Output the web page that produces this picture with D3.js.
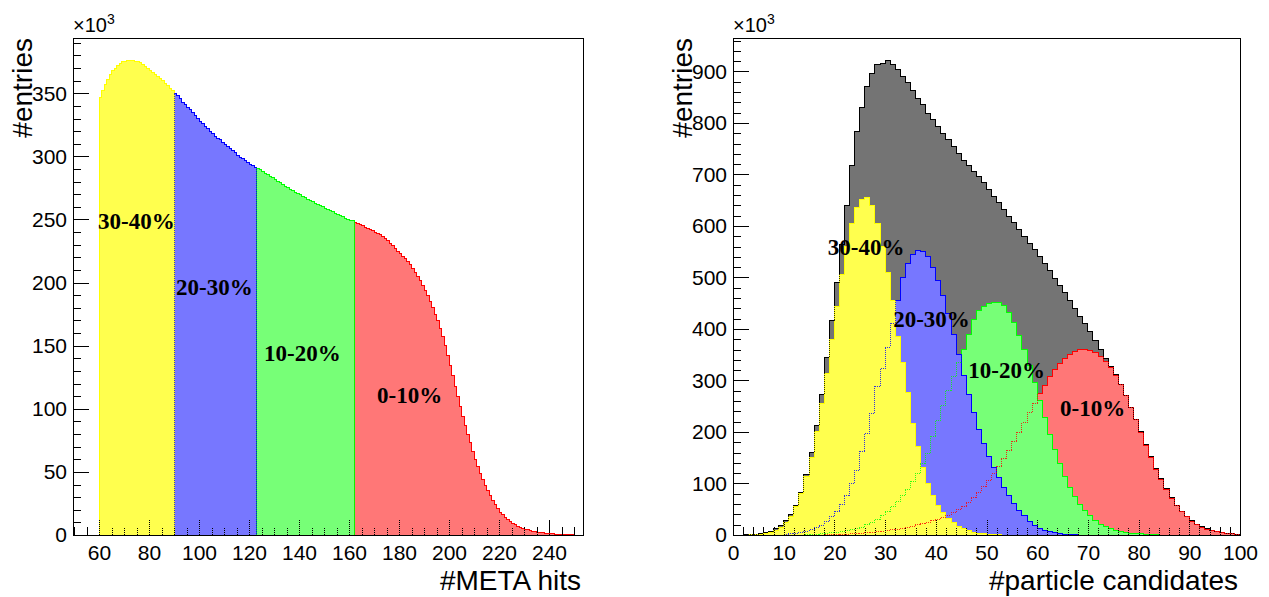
<!DOCTYPE html>
<html><head><meta charset="utf-8">
<script src="https://cdn.jsdelivr.net/npm/d3@7"></script>
<style>body{margin:0;background:#fff} svg{display:block}</style>
</head><body><svg id="c" width="1269" height="597"></svg>
<script>
// ---------- DATA (values in units of 10^3 entries) ----------
// Left: #META hits, bins of width 1, each class starts at given bin
const leftStarts = [60, 90, 123, 162];          // 30-40%, 20-30%, 10-20%, 0-10%
const left3040 = [347,352,357,361,365,368,370,372,373.5,375,375.5,376,376,376,375.5,375,374,372.5,371,369.5,368,366.5,365,363.5,362,360,358,356,354,352];
const left2030 = [350,348,345.5,343,341,339,337,334.5,332,330,328,326,324,322,320,318,316,314.5,313,311,309.5,308,306,304.5,303,301,299.5,298,296.5,295,293.5,292.5,291.5];
const left1020 = [290.5,289.5,288,286.5,285.5,284,283,281.5,280,279,277.5,276.5,275,274,273,271.5,270.5,269.5,268.5,267.5,266,265,264,263,262,261,260,259,258,257,256,255,254,253,252,251,250,249.5,249];
const left0010 = [248,247,246,245,244,243,242,241,240,239,238,236.5,235,233,231,229,227,225,223,221,219,216.5,214,211,208,205,202,198,194,190,185,180,175,170,164,157,150,142,134,126,118,110,102,94,87,80,73,66,60,54,49,44,39,35,31,27,24,21,18,16,14,12,10.5,9,8,7,6,5.3,4.6,4,3.5,3,2.6,2.2,1.9,1.6,1.4,1.2,1,0.8,0.7,0.6,0.5,0.4,0.3,0.25,0.2,0.1];

// Right: #particle candidates, bins 0..99 of width 1
const rightBins = d3.range(0, 100);
const rightTotal = [0,0,0.5,1,1.5,2,4,7,12,18, 28,40,58,83,118,160,212,272,344,417, 490,565,640,718,783,831,870,896,913,916, 921,913,903,890,879,864,848,835,819,806, 793,780,767,754,741,728,718,705,696,684, 671,658,645,632,619,606,593,580,566,554, 541,527,513,499,485,470,455,440,425,410, 395,378,360,342,327,311,293,271,248,224, 200,175,152,130,109,90,72,58,46,36, 28,21,16,12,8.5,6.5,4.5,3.2,2.2,1.2];
const right3040 = [0,0,0,0.5,1,1.5,3,5,9,15, 24,36,55,80,114,150,200,255,314,379, 443,505,560,605,635,652,655,640,605,560, 510,456,385,334,276,217,171,132,100,76, 57,43,32,24,17,12,8,5.5,3.5,2.5, 1.5,1,0.5,0,0,0,0,0,0,0, 0,0,0,0,0,0,0,0,0,0, 0,0,0,0,0,0,0,0,0,0, 0,0,0,0,0,0,0,0,0,0, 0,0,0,0,0,0,0,0,0,0];
const right2030 = [0,0,0,0,0,0,0,0,0,0, 1,2,3,5,7,10,14,19,26,35, 46,60,76,100,126,162,198,236,288,323, 365,411,456,500,528,545,552,550,540,520, 495,465,430,390,350,310,272,237,205,178, 153,131,111,93,76,61,48,37,27,19, 13,9,6,4,2.5,1.5,1,0.5,0,0, 0,0,0,0,0,0,0,0,0,0, 0,0,0,0,0,0,0,0,0,0, 0,0,0,0,0,0,0,0,0,0];
const right1020 = [0,0,0,0,0,0,0,0,0,0, 0,0,0,0,0.5,1,1.5,2,3,4, 5,6.5,8,10,12,15,20,25,31,38, 46,55,65,76,89,104,120,138,159,191, 223,252,281,307,335,360,390,418,435,443, 449,452,451,445,432,412,388,360,330,297, 262,228,196,166,138,113,92,74,59,47, 37,28,21,16,12,9,6.5,5,3.5,2.5, 2,1.5,1,0.5,0,0,0,0,0,0, 0,0,0,0,0,0,0,0,0,0];
const right0010 = [0,0,0,0,0,0,0,0,0,0, 0,0,0,0,0,0,0,0,0.5,0.7, 1,1.3,1.7,2.2,2.8,3.5,4.3,5.2,6.2,7.4, 8.7,10,11.5,13,15,17,19.5,22,25,28, 31,34,38,43,49,56,64,73,83,94, 106,119,133,148,164,181,199,218,237,256, 274,291,307,321,333,343,351,357,360,361, 359,354,347,337,325,310,292,271,248,224, 199,174,150,128,107,88,71,57,45,35, 27,20,15,11,8,6,4,3,2,1];

// axis ticks
const leftXTicks = [60,80,100,120,140,160,180,200,220,240];
const leftYTicks = [0,50,100,150,200,250,300,350];
const rightXTicks = [0,10,20,30,40,50,60,70,80,90,100];
const rightYTicks = [0,100,200,300,400,500,600,700,800,900];
const classNames = ["30-40%","20-30%","10-20%","0-10%"];

// ---------- DRAWING ----------
const svg = d3.select('#c');
const lineColors = {total:'#000000', c3040:'#ffff00', c2030:'#0000ff', c1020:'#00ff00', c0010:'#ff0000'};
const fillColors = {total:'#747474', c3040:'#ffff4e', c2030:'#7777ff', c1020:'#77ff77', c0010:'#ff7777'};

const FONT = "'Liberation Sans', Arial, Helvetica, sans-serif";
const SERIF = "'Liberation Serif', 'Times New Roman', serif";

function panel(cfg){
  const g = svg.append('g');
  const x = d3.scaleLinear().domain(cfg.xdom).range([cfg.x0, cfg.x1]);
  const y = d3.scaleLinear().domain(cfg.ydom).range([cfg.y1, cfg.y0]);

  function drawTicks(parent, withLabels, dashed){
    const axB = parent.append('g').attr('transform', `translate(0,${cfg.y1})`);
    axB.call(d3.axisBottom(x).tickValues(cfg.xMinor).tickSize(-8).tickFormat(''));
    const axB2 = parent.append('g').attr('transform', `translate(0,${cfg.y1})`);
    axB2.call(d3.axisBottom(x).tickValues(cfg.xTicks).tickSize(-15).tickPadding(10)
      .tickFormat(withLabels ? d3.format('d') : ''));
    const axL = parent.append('g').attr('transform', `translate(${cfg.x0},0)`);
    axL.call(d3.axisLeft(y).tickValues(cfg.yMinor).tickSize(-8).tickFormat(''));
    const axL2 = parent.append('g').attr('transform', `translate(${cfg.x0},0)`);
    axL2.call(d3.axisLeft(y).tickValues(cfg.yTicks).tickSize(-16).tickPadding(6)
      .tickFormat(withLabels ? d3.format('d') : ''));
    parent.selectAll('.domain').remove();
    parent.selectAll('.tick line').attr('stroke','#000').attr('shape-rendering','crispEdges')
      .attr('stroke-dasharray', dashed ? '1,1' : null);
    parent.selectAll('.tick text').attr('font-family', FONT).attr('font-size', 21).attr('fill','#000');
  }
  drawTicks(g.append('g'), true, false);

  // histograms: fill + outline, later ones cover earlier ones
  const hg = g.append('g');
  const line = d3.line();
  const paths = [];
  cfg.hists.forEach(h => {
    const pts = [[x(h.start), y(0)]];
    h.vals.forEach((v,i) => { pts.push([x(h.start+i), y(v)]); pts.push([x(h.start+i+1), y(v)]); });
    pts.push([x(h.start + h.vals.length), y(0)]);
    const d = line(pts);
    paths.push({d, key:h.key});
    hg.append('path').attr('d', d + 'Z').attr('fill', fillColors[h.key]).attr('stroke','none')
      .attr('shape-rendering','crispEdges');
    hg.append('path').attr('d', d).attr('fill','none').attr('stroke', lineColors[h.key]).attr('stroke-width',1)
      .attr('shape-rendering','crispEdges');
  });
  // hatched fills let covered outlines and ticks show through as dotted lines
  drawTicks(g.append('g'), false, true);
  paths.slice(0, -1).forEach(p => {
    hg.append('path').attr('d', p.d).attr('fill','none').attr('stroke', lineColors[p.key])
      .attr('stroke-width',1).attr('stroke-dasharray','1,1').attr('stroke-opacity',0.8)
      .attr('shape-rendering','crispEdges');
  });
  // zero-content baseline of the last drawn histogram
  g.append('line').attr('x1', cfg.x0).attr('x2', cfg.x1).attr('y1', y(0)).attr('y2', y(0))
    .attr('stroke', lineColors.c3040).attr('shape-rendering','crispEdges');

  // class labels
  cfg.labels.forEach(l => {
    g.append('text').attr('x', x(l.x)).attr('y', y(l.y)).text(l.t)
      .attr('font-family', SERIF).attr('font-weight','bold').attr('font-size', 23).attr('fill','#000');
  });

  // frame
  g.append('rect').attr('x', cfg.x0).attr('y', cfg.y0).attr('width', cfg.x1-cfg.x0).attr('height', cfg.y1-cfg.y0)
    .attr('fill','none').attr('stroke','#000').attr('shape-rendering','crispEdges');

  // x10^3
  const t = g.append('text').attr('x', cfg.x0).attr('y', 32).attr('font-family', FONT).attr('font-size', 20).attr('fill','#000');
  t.append('tspan').text('×10');
  t.append('tspan').attr('font-size', 14).attr('dy', -8).text('3');

  // axis titles
  g.append('text').attr('x', cfg.x1 - 2).attr('y', 590).attr('text-anchor','end')
    .attr('font-family', FONT).attr('font-size', 28).attr('fill','#000').text(cfg.xTitle);
  g.append('text').attr('transform', `translate(${cfg.x0 - 41},${cfg.y0}) rotate(-90)`).attr('text-anchor','end')
    .attr('font-family', FONT).attr('font-size', 28).attr('fill','#000').text('#entries');
}

panel({
  x0: 73, x1: 583, y0: 38, y1: 535,
  xdom: [49.6, 253.6], ydom: [0, 393.8],
  xTicks: leftXTicks, xMinor: d3.range(50, 254, 5),
  yTicks: leftYTicks, yMinor: d3.range(0, 394, 10),
  xTitle: '#META hits',
  hists: [
    {key:'c0010', start:leftStarts[3], vals:left0010},
    {key:'c1020', start:leftStarts[2], vals:left1020},
    {key:'c2030', start:leftStarts[1], vals:left2030},
    {key:'c3040', start:leftStarts[0], vals:left3040}
  ],
  labels: [
    {t:classNames[0], x:59.6, y:242.5},
    {t:classNames[1], x:90.8, y:190},
    {t:classNames[2], x:126, y:138},
    {t:classNames[3], x:171.2, y:104.6}
  ]
});

panel({
  x0: 733, x1: 1240, y0: 38, y1: 535,
  xdom: [0, 100], ydom: [0, 965],
  xTicks: rightXTicks, xMinor: d3.range(0, 101, 2),
  yTicks: rightYTicks, yMinor: d3.range(0, 966, 20),
  xTitle: '#particle candidates',
  hists: [
    {key:'total', start:rightBins[0], vals:rightTotal},
    {key:'c0010', start:rightBins[0], vals:right0010},
    {key:'c1020', start:rightBins[0], vals:right1020},
    {key:'c2030', start:rightBins[0], vals:right2030},
    {key:'c3040', start:rightBins[0], vals:right3040}
  ],
  labels: [
    {t:classNames[0], x:18.7, y:544},
    {t:classNames[1], x:31.6, y:404},
    {t:classNames[2], x:46.4, y:305},
    {t:classNames[3], x:64.5, y:231}
  ]
});
</script></body></html>
